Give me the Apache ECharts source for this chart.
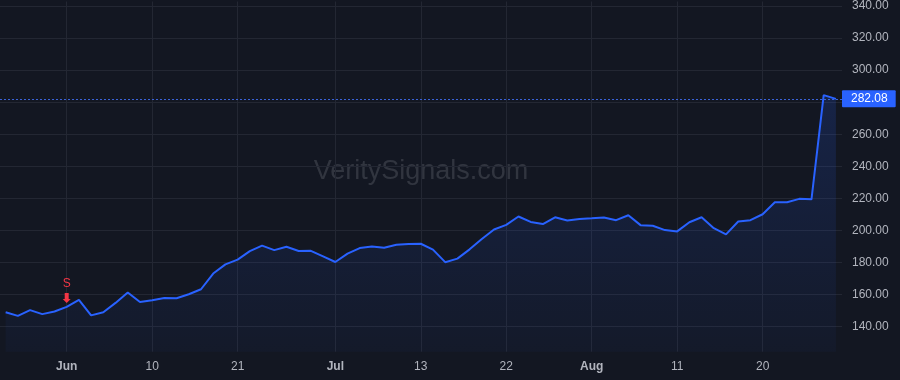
<!DOCTYPE html>
<html>
<head>
<meta charset="utf-8">
<script src="https://cdn.jsdelivr.net/npm/echarts@6/dist/echarts.min.js"></script>
<style>
html,body{margin:0;padding:0;background:#131722;}
#chart{width:900px;height:380px;}
</style>
</head>
<body>
<div id="chart"></div>
<script>
// Closing prices, one per bar (bar index = position on the time axis)
const prices = [
  149.0, 146.7, 150.3, 147.8, 149.4, 152.3, 156.7, 147.0, 149.0, 154.8,
  161.3, 155.4, 156.5, 157.9, 157.7, 160.2, 163.3, 173.1, 178.8, 181.8,
  187.1, 190.5, 187.7, 189.8, 187.2, 187.3, 183.8, 180.3, 185.5, 189.0,
  190.0, 189.2, 191.1, 191.5, 191.7, 188.0, 180.2, 182.4, 188.2, 194.6,
  200.6, 203.5, 208.7, 205.3, 204.0, 208.2, 206.2, 207.2, 207.6, 208.1,
  206.4, 209.5, 203.3, 202.9, 200.2, 199.4, 205.1, 208.2, 201.4, 197.5,
  205.6, 206.4, 210.1, 217.6, 217.6, 219.7, 219.4, 284.4, 282.08
];
// Time-axis tick labels and the bar index where each sits
const xTickIndex = [5, 12, 19, 27, 34, 41, 48, 55, 62];
const xTickLabels = ['Jun', '10', '21', 'Jul', '13', '22', 'Aug', '11', '20'];
const monthLabels = ['Jun', 'Jul', 'Aug'];
// Price-axis ticks
const yTicks = [140, 160, 180, 200, 220, 240, 260, 280, 300, 320, 340];
// Last price and the sell signal
const lastPrice = 282.08;
const signalIndex = 5;
const signalText = 'S';
const watermark = 'VeritySignals.com';

const FONT = '"Liberation Sans", Arial, sans-serif';
const seriesData = prices.map((v, i) => [i, v]);

const chart = echarts.init(document.getElementById('chart'), null, {renderer: 'canvas'});
chart.setOption({
  animation: false,
  backgroundColor: '#131722',
  grid: {left: 0, right: 58, top: 0, bottom: 28.3, containLabel: false},
  graphic: [{
    type: 'text',
    x: 421, y: 172,
    z: 0,
    style: {
      text: watermark,
      font: '27px ' + FONT,
      fill: 'rgba(120,123,134,0.3)',
      textAlign: 'center',
      textVerticalAlign: 'middle'
    }
  }],
  xAxis: {
    type: 'value',
    min: -0.463,
    max: 68.5,
    axisLine: {show: false},
    axisTick: {show: false, customValues: xTickIndex},
    splitLine: {show: true, lineStyle: {color: '#232733', width: 1}},
    axisLabel: {
      customValues: xTickIndex,
      margin: 9,
      formatter: function (v) {
        const k = xTickIndex.indexOf(Math.round(v));
        const t = k >= 0 ? xTickLabels[k] : '';
        return monthLabels.indexOf(t) >= 0 ? '{b|' + t + '}' : '{n|' + t + '}';
      },
      rich: {
        b: {color: '#b2b5be', fontSize: 12, fontWeight: 'bold', fontFamily: FONT},
        n: {color: '#b2b5be', fontSize: 12, fontFamily: FONT}
      }
    }
  },
  yAxis: {
    type: 'value',
    position: 'right',
    min: 124.35,
    max: 342.8,
    axisLine: {show: false},
    axisTick: {show: false, customValues: yTicks},
    splitLine: {show: true, lineStyle: {color: '#232733', width: 1}},
    axisLabel: {
      customValues: yTicks,
      margin: 10,
      color: '#b2b5be',
      fontSize: 12,
      fontFamily: FONT,
      formatter: v => v.toFixed(2)
    }
  },
  series: [{
    type: 'line',
    data: seriesData,
    symbol: 'none',
    z: 3,
    lineStyle: {color: '#2962ff', width: 2},
    areaStyle: {
      color: new echarts.graphic.LinearGradient(0, 0, 0, 1, [
        {offset: 0, color: 'rgba(41,98,255,0.24)'},
        {offset: 1, color: 'rgba(41,98,255,0.05)'}
      ])
    },
    markLine: {
      silent: true,
      symbol: 'none',
      z: 5,
      lineStyle: {color: '#3a63d9', type: [2, 2], width: 1},
      label: {
        position: 'end',
        distance: 0,
        formatter: () => lastPrice.toFixed(2),
        backgroundColor: '#2962ff',
        color: '#ffffff',
        fontSize: 12,
        fontFamily: FONT,
        lineHeight: 13,
        padding: [2, 8, 2, 9],
        borderRadius: 1
      },
      data: [{yAxis: lastPrice}]
    },
    markPoint: {
      silent: true,
      data: [{
        coord: [signalIndex, prices[signalIndex]],
        symbol: 'path://M2,0 L6,0 L6,6 L8,6 L4,10 L0,6 L2,6 Z',
        symbolSize: [8, 10],
        symbolOffset: [0, -9],
        itemStyle: {color: '#f23645'},
        label: {
          show: true,
          position: 'top',
          distance: 3,
          formatter: signalText,
          color: '#f23645',
          fontSize: 12,
          fontFamily: FONT
        }
      }]
    }
  }]
});
</script>
</body>
</html>
